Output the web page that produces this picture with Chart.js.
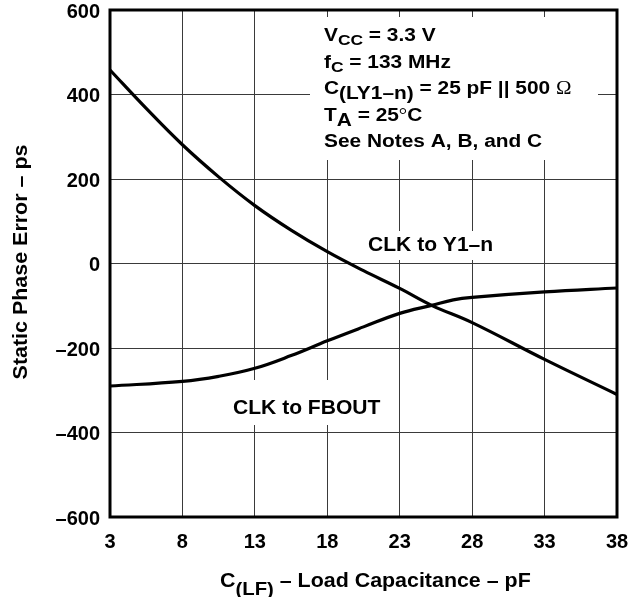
<!DOCTYPE html>
<html>
<head>
<meta charset="utf-8">
<script src="https://cdn.jsdelivr.net/npm/chart.js@4.4.1/dist/chart.umd.min.js"></script>
<style>
  html, body { margin: 0; padding: 0; background: #fff; }
  canvas { display: block; }
</style>
</head>
<body>
<canvas id="c" width="629" height="597"></canvas>
<script>
// ---- Data ----
const xTicks = [3, 8, 13, 18, 23, 28, 33, 38];
const yTicks = [-600, -400, -200, 0, 200, 400, 600];

const y1nCap   = [3, 5.5, 8, 10.5, 13, 15.5, 18, 20.5, 23, 25.2, 28, 33, 38];
const y1nError = [458, 367, 281, 205, 137, 79, 28, -17, -59, -99, -140, -227, -310];

const fbCap    = [3, 8, 10.5, 13, 15.5, 18, 20.5, 23, 25.2, 26.7, 28, 33, 38];
const fbError  = [-290, -279, -267, -248, -218, -183, -150, -118, -99, -86, -80, -67, -58];

const seriesLabels = ['CLK to Y1\u2013n', 'CLK to FBOUT'];
const yTitle = 'Static Phase Error \u2013 ps';

const FONT = '"Liberation Sans", Arial, Helvetica, sans-serif';

function toPts(xs, ys) { return xs.map((x, i) => ({ x: x, y: ys[i] })); }

// draw a run of text parts: {t, size, dy, font, weight}
function drawRich(ctx, parts, x, y, stretch, align) {
  ctx.save();
  let total = 0;
  const widths = parts.map(p => {
    ctx.font = (p.weight || 'bold') + ' ' + p.size + 'px ' + (p.font || FONT);
    const w = ctx.measureText(p.t).width;
    total += w;
    return w;
  });
  ctx.translate(x, y);
  ctx.scale(stretch, 1);
  let cx = align === 'center' ? -total / 2 : 0;
  ctx.textBaseline = 'alphabetic';
  ctx.textAlign = 'left';
  ctx.fillStyle = '#000';
  parts.forEach((p, i) => {
    ctx.font = (p.weight || 'bold') + ' ' + p.size + 'px ' + (p.font || FONT);
    ctx.fillText(p.t, cx, p.dy || 0);
    cx += widths[i];
  });
  ctx.restore();
  return total * stretch;
}

const decorPlugin = {
  id: 'decor',
  beforeDatasetsDraw(chart) {
    const ctx = chart.ctx;
    const a = chart.chartArea;
    ctx.save();
    // white backgrounds behind in-plot text (they interrupt the grid)
    ctx.fillStyle = '#fff';
    ctx.fillRect(310, 17, 288, 143);
    ctx.fillRect(360, 231, 140, 29);
    ctx.fillRect(225, 380, 160, 45);
    // frame
    ctx.strokeStyle = '#000';
    ctx.lineWidth = 3;
    ctx.strokeRect(a.left, a.top, a.right - a.left, a.bottom - a.top);
    ctx.restore();

    // annotation block
    const S = 18, sub = 15, st = 1.16, L = 324;
    drawRich(ctx, [{t: 'V', size: S}, {t: 'CC', size: sub, dy: 4}, {t: ' = 3.3 V', size: S}], L, 41, st);
    drawRich(ctx, [{t: 'f', size: S}, {t: 'C', size: sub, dy: 4}, {t: ' = 133 MHz', size: S}], L, 67.5, st);
    drawRich(ctx, [{t: 'C', size: S}, {t: '(LY1\u2013n)', size: S, dy: 5}, {t: ' = 25 pF || 500 ', size: S},
                   {t: '\u03A9', size: S, weight: 'normal', font: '"Liberation Serif", serif'}], L, 94, st);
    drawRich(ctx, [{t: 'T', size: S}, {t: 'A', size: S, dy: 5}, {t: ' = 25', size: S},
                   {t: '\u00B0', size: S, weight: 'normal', font: '"Liberation Serif", serif'}, {t: 'C', size: S}], L, 120.5, st);
    drawRich(ctx, [{t: 'See Notes A, B, and C', size: S}], L, 147, st);

    // series labels
    drawRich(ctx, [{t: seriesLabels[0], size: 19.5}], 368, 251, 1.08);
    drawRich(ctx, [{t: seriesLabels[1], size: 19.5}], 233, 413.5, 1.08);

    // x axis title with subscript
    drawRich(ctx, [{t: 'C', size: 20}, {t: '(LF)', size: 19, dy: 8}, {t: ' \u2013 Load Capacitance \u2013 pF', size: 20}], 220, 586.5, 1.07);

    // y axis title (rotated)
    ctx.save();
    ctx.translate(27, 262);
    ctx.rotate(-Math.PI / 2);
    drawRich(ctx, [{t: yTitle, size: 19.5}], 0, 0, 1.1, 'center');
    ctx.restore();
  }
};

new Chart(document.getElementById('c'), {
  type: 'line',
  data: {
    datasets: [
      {
        label: seriesLabels[0],
        data: toPts(y1nCap, y1nError),
        borderColor: '#000',
        borderWidth: 3.2,
        pointRadius: 0,
        fill: false,
        tension: 0.4
      },
      {
        label: seriesLabels[1],
        data: toPts(fbCap, fbError),
        borderColor: '#000',
        borderWidth: 3.2,
        pointRadius: 0,
        fill: false,
        tension: 0.4
      }
    ]
  },
  options: {
    responsive: false,
    animation: false,
    devicePixelRatio: 1,
    layout: { padding: { top: 0, right: 0, left: 0, bottom: 0 } },
    plugins: { legend: { display: false }, tooltip: { enabled: false }, title: { display: false } },
    scales: {
      x: {
        type: 'linear',
        min: 3, max: 38,
        afterBuildTicks(scale) { scale.ticks = xTicks.map(v => ({ value: v })); },
        afterFit(scale) { scale.height = 80; scale.paddingRight = 12; },
        grid: { color: '#3a3a3a', lineWidth: 1, drawTicks: false },
        border: { display: false },
        ticks: { color: '#000', padding: 13, maxRotation: 0, autoSkip: false,
                 font: { family: FONT, size: 20, weight: 'bold' } }
      },
      y: {
        type: 'linear',
        min: -600, max: 600,
        afterBuildTicks(scale) { scale.ticks = yTicks.map(v => ({ value: v })); },
        afterFit(scale) { scale.width = 110; scale.paddingTop = 10; },
        grid: { color: '#3a3a3a', lineWidth: 1, drawTicks: false },
        border: { display: false },
        ticks: { color: '#000', padding: 10, autoSkip: false, labelOffset: 2,
                 callback: v => (v < 0 ? '\u2013' + Math.abs(v) : String(v)),
                 font: { family: FONT, size: 20, weight: 'bold' } }
      }
    }
  },
  plugins: [decorPlugin]
});
</script>
</body>
</html>
